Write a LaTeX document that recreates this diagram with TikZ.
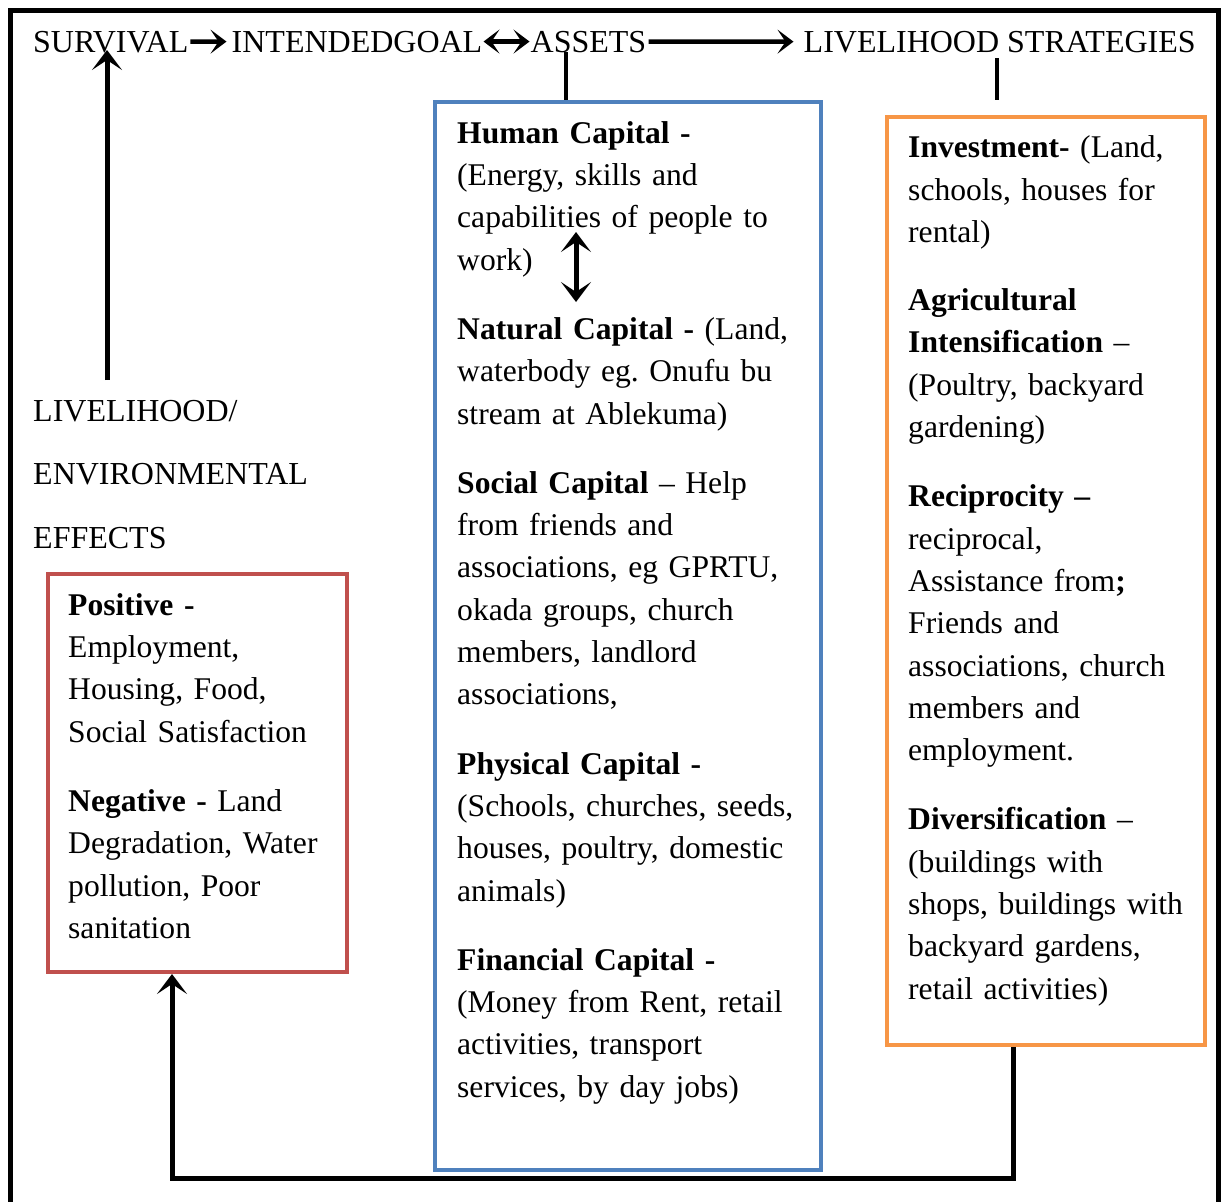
\documentclass[tikz,border=0pt]{standalone}
\usepackage{fontspec}
\setmainfont{Liberation Serif}
\definecolor{assetblue}{HTML}{4F81BD}
\definecolor{effectred}{HTML}{C0504D}
\definecolor{strategyorange}{HTML}{F79646}
\usetikzlibrary{calc, positioning, arrows.meta}
\newcommand{\firstline}{\rule{0pt}{24pt}}
\frenchspacing

\begin{document}
\begin{tikzpicture}[x=1pt, y=-1pt,
  headtxt/.style={inner sep=0pt, font=\fontsize{32pt}{42.3pt}\selectfont},
  boxtxt/.style={inner sep=0pt, anchor=north west, align=left, font=\fontsize{31.6pt}{42.3pt}\selectfont},
  capbox/.style={draw=#1, line width=4pt, inner sep=0pt, anchor=north west},
  link/.style={line width=4.5pt},
  arr/.style={line width=5pt, -{Stealth[length=20pt,width=30pt,inset=10pt]}},
  smallarr/.style={line width=4.5pt, -{Stealth[length=16pt,width=24pt,inset=8pt]}},
  dblarr/.style={line width=4.5pt, {Stealth[length=16pt,width=24pt,inset=8pt]}-{Stealth[length=16pt,width=24pt,inset=8pt]}},
  innerdbl/.style={line width=5pt, {Stealth[length=20pt,width=30pt,inset=10pt]}-{Stealth[length=20pt,width=30pt,inset=10pt]}}]
  \useasboundingbox (0,0) rectangle (1227,1202);
  % outer frame
  \draw[line width=5pt] (10,1202) -- (10,10) -- (1218,10) -- (1218,1202);

  % top row
  \node[headtxt, anchor=base west] (survival) at (33,52) {SURVIVAL};
  \node[headtxt, base right=43pt of survival] (goal) {INTENDEDGOAL};
  \node[headtxt, base right=48pt of goal] (assets) {ASSETS};
  \node[headtxt, base right=157pt of assets] (strategies) {LIVELIHOOD STRATEGIES};
  \draw[smallarr, shorten <=2pt, shorten >=5pt] (survival.east) -- (goal.west);
  \draw[dblarr, shorten <=1pt, shorten >=1pt] (goal.east) -- (assets.west);
  \draw[smallarr, shorten <=2pt, shorten >=10pt] (assets.east) -- (strategies.west);

  % boxes
  \node[capbox=effectred, minimum width=299pt, minimum height=398pt] (effectbox) at (46,572) {};
  \node[capbox=assetblue, minimum width=386pt, minimum height=1068pt] (assetbox) at (433,100) {};
  \node[capbox=strategyorange, minimum width=318pt, minimum height=928pt] (strategybox) at (885,115) {};

  % left label
  \node[boxtxt, text width=300pt, font=\fontsize{32pt}{63.5pt}\selectfont] (effects) at (33,397)
    {\firstline LIVELIHOOD/\\ENVIRONMENTAL\\EFFECTS};

  \node[boxtxt, text width=275pt] (effecttxt) at ([xshift=22pt,yshift=-19pt]effectbox.north west)
    {\firstline\textbf{Positive -}\\
     Employment,\\
     Housing, Food,\\
     Social Satisfaction\\[27pt]
     \textbf{Negative -} Land\\
     Degradation, Water\\
     pollution, Poor\\
     sanitation};

  \node[boxtxt, text width=360pt] (assettxt) at ([xshift=24pt,yshift=-19pt]assetbox.north west)
    {\firstline\textbf{Human Capital -}\\
     (Energy, skills and\\
     capabilities of people to\\
     work)\\[27pt]
     \textbf{Natural Capital -} (Land,\\
     waterbody eg. Onufu bu\\
     stream at Ablekuma)\\[27pt]
     \textbf{Social Capital} -- Help\\
     from friends and\\
     associations, eg GPRTU,\\
     okada groups, church\\
     members, landlord\\
     associations,\\[27pt]
     \textbf{Physical Capital -}\\
     (Schools, churches, seeds,\\
     houses, poultry, domestic\\
     animals)\\[27pt]
     \textbf{Financial Capital -}\\
     (Money from Rent, retail\\
     activities, transport\\
     services, by day jobs)};

  \node[boxtxt, text width=300pt] (strategytxt) at ([xshift=23pt,yshift=-18.5pt]strategybox.north west)
    {\firstline\textbf{Investment-} (Land,\\
     schools, houses for\\
     rental)\\[26pt]
     \textbf{Agricultural}\\
     \textbf{Intensification} --\\
     (Poultry, backyard\\
     gardening)\\[27pt]
     \textbf{Reciprocity --}\\
     reciprocal,\\
     Assistance from\textbf{;}\\
     Friends and\\
     associations, church\\
     members and\\
     employment.\\[27pt]
     \textbf{Diversification} --\\
     (buildings with\\
     shops, buildings with\\
     backyard gardens,\\
     retail activities)};

  % connectors
  \coordinate (assetdrop) at (566,100);
  \coordinate (strategydrop) at (997,100);
  \coordinate (effectrise) at (107,380);
  \coordinate (humanend) at (576,232);
  \coordinate (naturalend) at (576,302);
  \coordinate (loopright) at (1013,1178);
  \coordinate (loopleft) at (172,1178);
  \draw[link] (assets.base -| assetdrop) -- (assetdrop);
  \draw[link] ([yshift=-6pt]strategies.base -| strategydrop) -- (strategydrop);
  \draw[arr] (effectrise) -- ([yshift=2pt]effectrise |- survival.base);
  \draw[innerdbl] (humanend) -- (naturalend);
  \draw[arr, line join=miter] (strategybox.south -| loopright) -- (loopright) -- (loopleft) -- (effectbox.south -| loopleft);
\end{tikzpicture}
\end{document}
